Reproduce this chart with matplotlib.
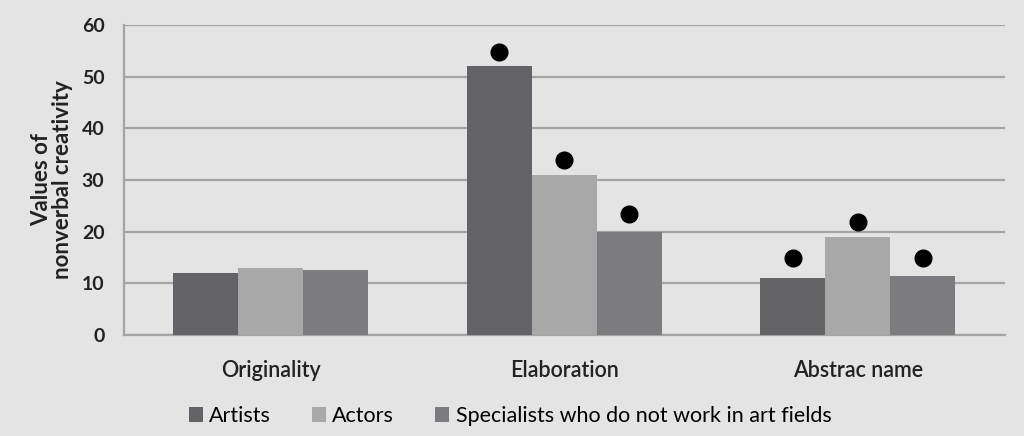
import matplotlib.pyplot as plt
import numpy as np

categories = ["Originality", "Elaboration", "Abstrac name"]
series = ["Artists", "Actors", "Specialists who do not work in art fields"]
artists = [12.0, 52.0, 11.0]
actors = [13.0, 31.0, 19.0]
specialists = [12.5, 20.0, 11.4]
# black dots above bars (none for Originality)
dots_artists = [np.nan, 54.8, 14.9]
dots_actors = [np.nan, 33.8, 21.9]
dots_specialists = [np.nan, 23.4, 14.9]

colors = ["#636367", "#a8a8a8", "#7c7c80"]
bg = "#e4e4e4"

plt.rcParams["font.family"] = ["Lato", "DejaVu Sans"]

fig = plt.figure(figsize=(10.24, 4.36), dpi=100, facecolor=bg)
ax = fig.add_axes([0.121, 0.232, 0.860, 0.711])
ax.set_facecolor(bg)

x = np.arange(len(categories))
w = 0.221
values = [artists, actors, specialists]
dots = [dots_artists, dots_actors, dots_specialists]
for i, (vals, dv, name, c) in enumerate(zip(values, dots, series, colors)):
    off = (i - 1) * w
    ax.bar(x + off, vals, width=w, color=c, label=name, zorder=3)
    ax.plot(x + off, dv, "o", color="black", markersize=12, zorder=4)

ax.set_xlim(-0.5, 2.5)
ax.set_ylim(0, 60)
ax.set_yticks(range(0, 61, 10))
ax.set_xticks(x)
ax.set_xticklabels(categories, fontsize=15.5, fontweight="semibold", color="#222222")
ax.tick_params(axis="y", labelsize=14, length=0, pad=14, labelcolor="#222222")
ax.tick_params(axis="x", length=0, pad=18)
for lbl in ax.get_yticklabels():
    lbl.set_fontweight("bold")

ax.grid(axis="y", color="#a4a4a4", linewidth=1.6, zorder=0)
for s in ["top", "right"]:
    ax.spines[s].set_visible(False)
ax.spines["left"].set_color("#a4a4a4")
ax.spines["bottom"].set_color("#a4a4a4")
ax.spines["left"].set_linewidth(1.6)
ax.spines["bottom"].set_linewidth(1.6)

ax.set_ylabel("Values of\nnonverbal creativity", fontsize=16, fontweight="bold",
              color="#222222", labelpad=6, linespacing=1.0)

fig.legend(loc="lower center", bbox_to_anchor=(0.498, -0.022), ncol=3, frameon=False,
           fontsize=15.5, handlelength=0.65, handleheight=0.65, handletextpad=0.3,
           columnspacing=1.9)

fig.savefig("out.png", dpi=100, facecolor=bg)
